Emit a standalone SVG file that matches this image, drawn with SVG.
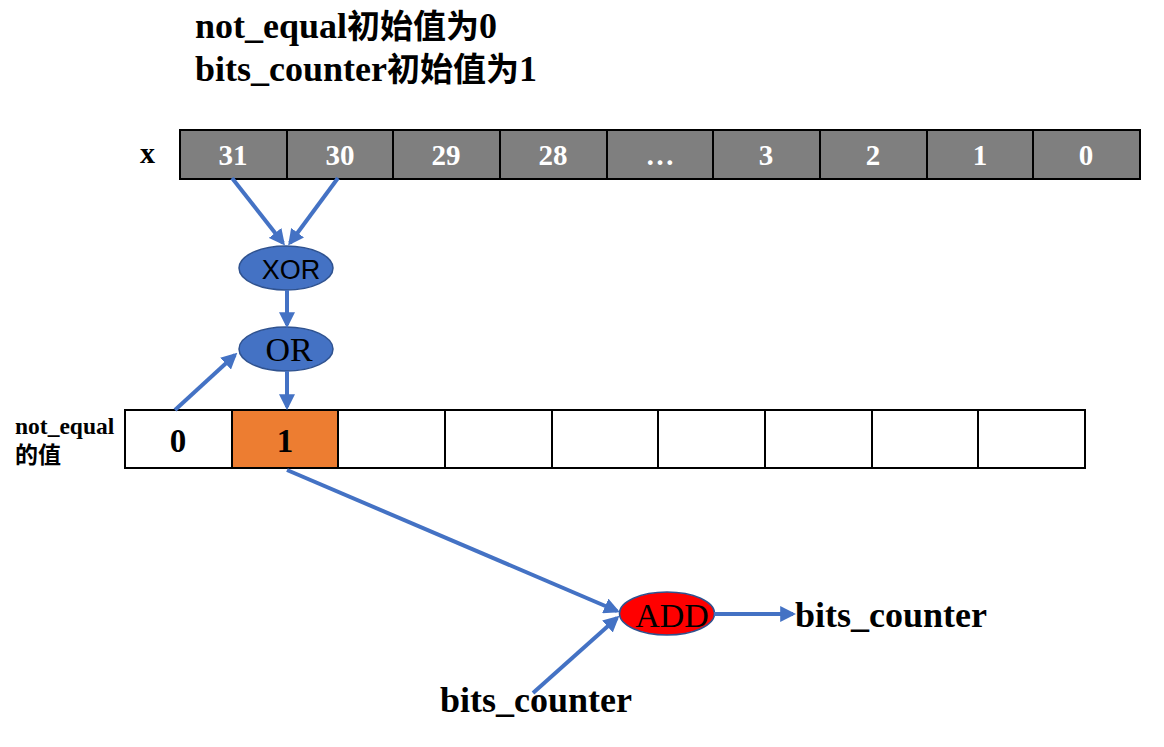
<svg xmlns="http://www.w3.org/2000/svg" width="1164" height="747" viewBox="0 0 1164 747">
<style>
.t{font-family:"Liberation Serif","Times New Roman","DejaVu Serif","Noto Sans CJK SC",serif;font-weight:bold;fill:#000}
.cj{font-family:"Noto Sans CJK SC",sans-serif;font-weight:bold}
.gc{fill:#7f7f7f;stroke:#000;stroke-width:2}
.wc{fill:#fff;stroke:#000;stroke-width:2}
.wl{font-family:"Liberation Serif","Times New Roman","DejaVu Serif",serif;font-weight:bold;fill:#fff;font-size:29px;text-anchor:middle}
.bl{font-family:"Liberation Serif","Times New Roman","DejaVu Serif",serif;font-weight:bold;fill:#000;font-size:33px;text-anchor:middle}
.sv{font-family:"Liberation Serif","Times New Roman","DejaVu Serif",serif;fill:#000;text-anchor:middle}
.op{fill:#4472c4;stroke:#2f528f;stroke-width:1.5}
.c{stroke:#4472c4;stroke-width:4;fill:none;marker-end:url(#ah)}
</style>
<defs>
<marker id="ah" viewBox="0 0 10 10" refX="8" refY="5" markerWidth="4" markerHeight="4" orient="auto" markerUnits="strokeWidth">
<path d="M0,0 L10,5 L0,10 z" fill="#4472c4"/>
</marker>
</defs>
<rect width="1164" height="747" fill="#fff"/>
<g id="title">
<text class="t" x="195" y="38" font-size="36">not_equal<tspan class="cj" font-size="33">初始值为</tspan>0</text>
<text class="t" x="195" y="81" font-size="36">bits_counter<tspan class="cj" font-size="33">初始值为</tspan>1</text>
</g>
<g id="x-register">
<text class="t" x="140" y="163" font-size="30">x</text>
<rect class="gc" x="180" y="130" width="107" height="49"/>
<rect class="gc" x="287" y="130" width="106" height="49"/>
<rect class="gc" x="393" y="130" width="107" height="49"/>
<rect class="gc" x="500" y="130" width="107" height="49"/>
<rect class="gc" x="607" y="130" width="106" height="49"/>
<rect class="gc" x="713" y="130" width="107" height="49"/>
<rect class="gc" x="820" y="130" width="107" height="49"/>
<rect class="gc" x="927" y="130" width="106" height="49"/>
<rect class="gc" x="1033" y="130" width="107" height="49"/>
<text class="wl" x="233" y="165">31</text>
<text class="wl" x="340" y="165">30</text>
<text class="wl" x="446" y="165">29</text>
<text class="wl" x="553" y="165">28</text>
<text class="wl" x="660" y="165">…</text>
<text class="wl" x="766" y="165">3</text>
<text class="wl" x="873" y="165">2</text>
<text class="wl" x="980" y="165">1</text>
<text class="wl" x="1086" y="165">0</text>
</g>
<g id="not-equal-register">
<text class="t" x="15" y="434" font-size="23.5">not_equal</text>
<text class="cj" x="15" y="463" font-size="23">的值</text>
<rect class="wc" x="125" y="410" width="107" height="58"/>
<rect x="232" y="410" width="106" height="58" fill="#ed7d31" stroke="#000" stroke-width="2"/>
<rect class="wc" x="338" y="410" width="107" height="58"/>
<rect class="wc" x="445" y="410" width="107" height="58"/>
<rect class="wc" x="552" y="410" width="106" height="58"/>
<rect class="wc" x="658" y="410" width="107" height="58"/>
<rect class="wc" x="765" y="410" width="107" height="58"/>
<rect class="wc" x="872" y="410" width="106" height="58"/>
<rect class="wc" x="978" y="410" width="107" height="58"/>
<text class="bl" x="178" y="452">0</text>
<text class="bl" x="285" y="452">1</text>
</g>
<g id="xor">
<ellipse class="op" cx="286" cy="268" rx="47" ry="22"/>
<text x="291" y="279" font-family="'Liberation Sans',sans-serif" font-size="27" text-anchor="middle" fill="#000">XOR</text>
</g>
<g id="or">
<ellipse class="op" cx="286" cy="349" rx="47" ry="22"/>
<text class="sv" x="289" y="361" font-size="34">OR</text>
</g>
<g id="add">
<ellipse cx="667" cy="613.5" rx="47.5" ry="21.5" fill="#ff0000" stroke="#2f528f" stroke-width="1.5"/>
<text class="sv" x="672" y="627" font-size="34">ADD</text>
</g>
<g id="bits-out">
<text class="t" x="795" y="627" font-size="36">bits_counter</text>
</g>
<g id="bits-in">
<text class="t" x="440" y="712" font-size="36">bits_counter</text>
</g>
<g id="connectors">
<line class="c" x1="232" y1="178" x2="283" y2="243"/>
<line class="c" x1="338" y1="178" x2="290" y2="243"/>
<line class="c" x1="287" y1="290" x2="287" y2="325"/>
<line class="c" x1="175" y1="410" x2="235" y2="355"/>
<line class="c" x1="287" y1="371" x2="287" y2="407"/>
<line class="c" x1="287" y1="470" x2="617" y2="611"/>
<line class="c" x1="533" y1="693" x2="617" y2="618"/>
<line class="c" x1="714" y1="614" x2="793" y2="614"/>
</g>
</svg>
